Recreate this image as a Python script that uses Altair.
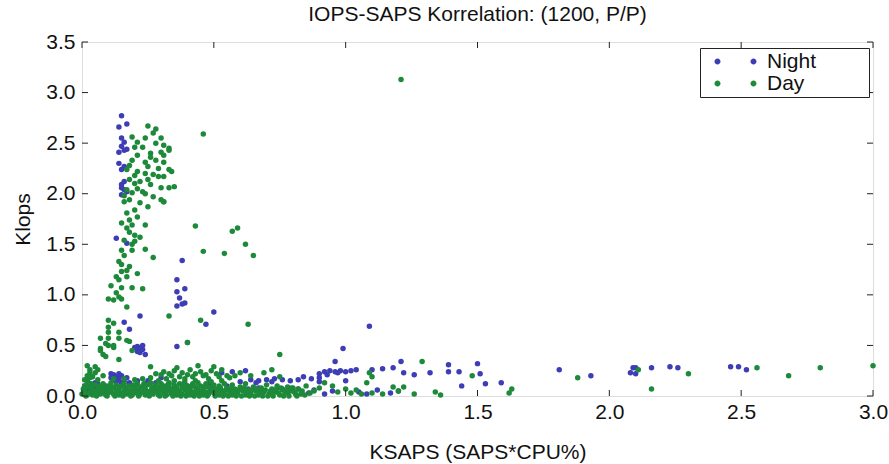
import altair as alt
import pandas as pd

# ---------------- data ----------------
night_points = [
    # upper column
    (0.15, 2.77), (0.14, 2.66), (0.17, 2.69), (0.15, 2.55), (0.16, 2.51), (0.14, 2.41),
    (0.16, 2.43), (0.15, 2.47), (0.15, 2.24), (0.16, 2.27), (0.15, 2.09), (0.15, 2.06),
    (0.16, 2.04), (0.15, 1.99), (0.17, 2.02), (0.16, 2.12), (0.14, 2.30), (0.17, 2.44),
    # middle
    (0.13, 1.56), (0.17, 1.51), (0.38, 1.34), (0.36, 1.15), (0.39, 1.06), (0.36, 1.03),
    (0.37, 0.97), (0.39, 0.92), (0.36, 0.89), (0.50, 0.83), (0.22, 0.79), (0.47, 0.71),
    (0.16, 0.73), (0.18, 0.66), (0.38, 0.91),
    (0.21, 0.49), (0.22, 0.47), (0.23, 0.46), (0.24, 0.41), (0.22, 0.43), (0.21, 0.44),
    (0.20, 0.48), (0.23, 0.50), (0.36, 0.49), (0.40, 0.53),
    # row around 0.25 to the right
    (0.90, 0.22), (0.92, 0.24), (0.94, 0.25), (0.96, 0.24), (0.98, 0.25), (1.00, 0.24),
    (1.02, 0.25), (1.04, 0.26), (0.93, 0.21), (0.97, 0.23), (1.09, 0.69), (0.99, 0.47),
    (0.96, 0.34), (1.21, 0.34), (1.10, 0.26), (1.14, 0.27), (1.18, 0.28), (1.22, 0.23),
    (1.26, 0.21), (1.32, 0.23), (1.39, 0.31), (1.39, 0.24), (1.43, 0.24), (1.50, 0.32),
    (1.51, 0.22), (1.44, 0.10), (1.53, 0.12), (1.59, 0.13), (1.00, 0.15), (1.81, 0.26),
    (1.93, 0.20), (2.09, 0.28), (2.10, 0.28), (2.08, 0.23), (2.10, 0.22), (2.16, 0.28),
    (2.23, 0.29), (2.26, 0.28), (2.46, 0.29), (2.49, 0.29), (2.52, 0.26), (1.17, 0.03),
    (1.12, 0.06), (1.08, 0.02), (1.20, 0.05),
    # band 0.55 - 0.9
    (0.53, 0.23), (0.57, 0.24), (0.62, 0.25), (0.64, 0.16), (0.67, 0.15), (0.70, 0.16),
    (0.73, 0.17), (0.76, 0.16), (0.79, 0.15), (0.82, 0.16), (0.86, 0.03), (0.66, 0.13),
    (0.72, 0.14), (0.60, 0.14), (0.84, 0.19), (0.87, 0.17), (0.67, 0.08), (0.76, 0.07),
    (0.82, 0.07), (0.90, 0.14), (0.90, 0.18),
    # lower left
    (0.12, 0.21), (0.13, 0.19), (0.14, 0.17), (0.15, 0.20), (0.16, 0.15), (0.13, 0.14),
    (0.11, 0.18), (0.17, 0.18), (0.14, 0.22), (0.18, 0.13), (0.21, 0.15), (0.24, 0.12),
    (0.02, 0.05), (0.03, 0.08), (0.04, 0.06), (0.05, 0.09), (0.06, 0.05), (0.07, 0.07),
    (0.08, 0.04), (0.03, 0.12), (0.01, 0.10), (0.02, 0.15), (0.05, 0.13), (0.09, 0.10),
    (0.10, 0.06), (0.18, 0.12), (0.20, 0.10), (0.22, 0.08), (0.25, 0.15), (0.28, 0.13),
    (0.28, 0.06), (0.30, 0.18), (0.32, 0.06), (0.33, 0.12), (0.35, 0.07), (0.40, 0.10),
    (0.44, 0.05), (0.48, 0.12), (0.52, 0.06), (0.55, 0.10), (0.58, 0.04), (0.63, 0.07),
    (0.68, 0.05), (0.74, 0.08), (0.78, 0.04), (0.88, 0.06), (0.92, 0.02), (0.95, 0.05),
    (1.05, 0.04), (0.11, 0.22), (0.12, 0.16), (0.15, 0.13), (0.04, 0.10), (0.06, 0.12),
]

day_points = [
    # upper cluster
    (0.46, 2.59), (0.25, 2.67), (0.27, 2.60), (0.30, 2.55), (0.19, 2.56), (0.21, 2.51),
    (0.23, 2.46), (0.28, 2.50), (0.31, 2.48), (0.33, 2.45), (0.26, 2.40), (0.30, 2.41),
    (0.31, 2.38), (0.21, 2.38), (0.19, 2.33), (0.24, 2.31), (0.28, 2.33), (0.31, 2.31),
    (0.25, 2.27), (0.29, 2.25), (0.33, 2.24), (0.17, 2.24), (0.21, 2.22), (0.24, 2.20),
    (0.27, 2.19), (0.31, 2.17), (0.18, 2.14), (0.22, 2.12), (0.26, 2.09), (0.30, 2.06),
    (0.33, 2.06), (0.17, 2.04), (0.19, 2.01), (0.23, 2.02), (0.27, 1.97), (0.30, 1.94),
    (0.18, 1.94), (0.22, 1.91), (0.33, 2.43), (0.35, 2.07), (0.31, 1.92), (0.28, 2.64),
    (0.20, 2.46), (0.24, 2.55), (0.18, 2.28), (0.20, 2.10), (0.25, 2.14), (0.29, 2.17),
    (0.21, 2.05), (0.24, 2.00), (0.34, 2.22), (0.20, 2.18), (0.16, 1.98), (0.26, 2.36),
    # middle column
    (0.16, 1.92), (0.17, 1.81), (0.18, 1.74), (0.15, 1.71), (0.19, 1.69), (0.18, 1.62),
    (0.20, 1.59), (0.22, 1.57), (0.16, 1.54), (0.15, 1.44), (0.16, 1.39), (0.19, 1.44),
    (0.31, 1.92), (0.20, 1.84), (0.25, 1.87), (0.21, 1.77), (0.17, 1.66), (0.19, 1.50),
    (0.20, 1.53), (0.15, 1.30), (0.14, 1.33), (0.18, 1.28),
    (0.43, 1.68), (0.57, 1.63), (0.59, 1.66), (0.62, 1.50), (0.46, 1.43), (0.54, 1.41),
    (0.65, 1.39), (0.24, 1.69), (0.24, 1.45), (0.27, 1.37), (0.33, 0.79), (0.45, 0.75),
    (0.63, 0.71),
    (0.15, 1.23), (0.17, 1.24), (0.13, 1.18), (0.14, 1.15), (0.17, 1.18), (0.21, 1.21),
    (0.11, 1.09), (0.15, 1.07), (0.19, 1.07), (0.23, 1.06), (0.13, 1.02), (0.10, 0.96),
    (0.12, 0.95), (0.14, 0.98), (0.15, 0.96), (0.17, 0.88), (0.10, 0.75), (0.12, 0.72),
    (0.10, 0.68), (0.10, 0.63), (0.14, 0.63), (0.07, 0.57), (0.10, 0.57), (0.14, 0.57),
    (0.17, 0.55), (0.10, 0.50), (0.07, 0.47), (0.12, 0.48),
    # lower
    (0.09, 0.52), (0.12, 0.50), (0.08, 0.41), (0.14, 0.36), (0.05, 0.29), (0.05, 0.23),
    (0.26, 0.29), (0.18, 0.54), (0.40, 0.53), (0.09, 0.39), (0.07, 0.45), (0.19, 0.45),
    (0.75, 0.41), (0.04, 0.19), (0.06, 0.26),
    (0.28, 0.22), (0.31, 0.24), (0.33, 0.22), (0.35, 0.25), (0.36, 0.28), (0.38, 0.23),
    (0.40, 0.21), (0.41, 0.26), (0.43, 0.22), (0.45, 0.24), (0.47, 0.21), (0.49, 0.25),
    (0.51, 0.22), (0.53, 0.26), (0.55, 0.20), (0.56, 0.18), (0.60, 0.23), (0.69, 0.23),
    (0.72, 0.26), (0.64, 0.20), (0.75, 0.19), (0.50, 0.29), (0.44, 0.30), (0.03, 0.23),
    (0.02, 0.30), (0.08, 0.20), (0.30, 0.21), (0.34, 0.20), (0.37, 0.19), (0.42, 0.19),
    (0.46, 0.20), (0.52, 0.19), (0.58, 0.20), (0.32, 0.17), (0.39, 0.17), (0.48, 0.17),
    # right tail
    (0.92, 0.13), (0.97, 0.04), (1.02, 0.03), (1.04, 0.06), (1.08, 0.13), (1.10, 0.03),
    (1.10, 0.19), (1.09, 0.23), (1.18, 0.09), (1.22, 0.09), (1.20, 0.05), (1.29, 0.34),
    (1.34, 0.04), (1.36, 0.01), (1.48, 0.20), (1.63, 0.07), (1.62, 0.03), (1.88, 0.18),
    (2.11, 0.26), (2.16, 0.07), (2.30, 0.22), (2.56, 0.28), (2.68, 0.20), (2.80, 0.28),
    (3.00, 0.30), (1.21, 3.13), (0.85, 0.10), (0.88, 0.05), (0.80, 0.08), (0.83, 0.02),
    (0.90, 0.08), (0.95, 0.10), (1.00, 0.07), (1.06, 0.02), (1.14, 0.02), (1.26, 0.02),
    # dense bottom band
    (0.00, 0.02), (0.01, 0.05), (0.01, 0.10), (0.02, 0.01), (0.02, 0.14), (0.03, 0.04),
    (0.03, 0.18), (0.04, 0.08), (0.04, 0.01), (0.05, 0.11), (0.05, 0.03), (0.06, 0.06),
    (0.06, 0.16), (0.07, 0.02), (0.07, 0.09), (0.08, 0.12), (0.08, 0.04), (0.09, 0.01),
    (0.09, 0.07), (0.10, 0.10), (0.10, 0.03), (0.11, 0.13), (0.11, 0.05), (0.12, 0.02),
    (0.12, 0.08), (0.13, 0.11), (0.13, 0.04), (0.14, 0.01), (0.14, 0.07), (0.15, 0.10),
    (0.15, 0.03), (0.16, 0.05), (0.16, 0.12), (0.17, 0.02), (0.17, 0.08), (0.18, 0.04),
    (0.18, 0.10), (0.19, 0.01), (0.19, 0.06), (0.20, 0.09), (0.20, 0.03), (0.21, 0.12),
    (0.21, 0.05), (0.22, 0.02), (0.22, 0.08), (0.23, 0.10), (0.23, 0.04), (0.24, 0.01),
    (0.24, 0.07), (0.25, 0.11), (0.25, 0.03), (0.26, 0.05), (0.26, 0.13), (0.27, 0.02),
    (0.27, 0.09), (0.28, 0.06), (0.28, 0.11), (0.29, 0.01), (0.29, 0.04), (0.30, 0.08),
    (0.30, 0.12), (0.31, 0.03), (0.31, 0.10), (0.32, 0.05), (0.32, 0.01), (0.33, 0.09),
    (0.33, 0.13), (0.34, 0.02), (0.34, 0.07), (0.35, 0.11), (0.35, 0.04), (0.36, 0.01),
    (0.36, 0.08), (0.37, 0.12), (0.37, 0.05), (0.38, 0.02), (0.38, 0.09), (0.39, 0.06),
    (0.39, 0.14), (0.40, 0.03), (0.40, 0.10), (0.41, 0.07), (0.41, 0.01), (0.42, 0.12),
    (0.42, 0.04), (0.43, 0.09), (0.43, 0.02), (0.44, 0.06), (0.44, 0.13), (0.45, 0.03),
    (0.45, 0.10), (0.46, 0.07), (0.46, 0.01), (0.47, 0.12), (0.47, 0.04), (0.48, 0.09),
    (0.48, 0.02), (0.49, 0.06), (0.49, 0.14), (0.50, 0.03), (0.50, 0.11), (0.51, 0.07),
    (0.52, 0.01), (0.52, 0.10), (0.53, 0.05), (0.54, 0.12), (0.54, 0.02), (0.55, 0.08),
    (0.56, 0.04), (0.57, 0.11), (0.57, 0.01), (0.58, 0.07), (0.59, 0.03), (0.60, 0.09),
    (0.61, 0.05), (0.62, 0.01), (0.62, 0.12), (0.63, 0.06), (0.64, 0.03), (0.65, 0.09),
    (0.66, 0.05), (0.67, 0.01), (0.68, 0.08), (0.69, 0.04), (0.70, 0.11), (0.71, 0.02),
    (0.72, 0.07), (0.73, 0.04), (0.74, 0.10), (0.75, 0.01), (0.76, 0.06), (0.77, 0.03),
    (0.78, 0.09), (0.79, 0.05), (0.81, 0.02), (0.82, 0.07),
    (0.005, 0.07), (0.015, 0.00), (0.025, 0.09), (0.035, 0.12), (0.045, 0.05),
    (0.055, 0.00), (0.065, 0.10), (0.075, 0.05), (0.085, 0.08), (0.095, 0.00),
    (0.105, 0.06), (0.115, 0.09), (0.125, 0.00), (0.135, 0.06), (0.145, 0.09),
    (0.155, 0.00), (0.165, 0.08), (0.175, 0.05), (0.185, 0.00), (0.195, 0.11),
    (0.205, 0.06), (0.215, 0.00), (0.225, 0.05), (0.235, 0.12), (0.245, 0.05),
    (0.255, 0.00), (0.265, 0.08), (0.275, 0.05), (0.285, 0.09), (0.295, 0.00),
    (0.305, 0.06), (0.315, 0.00), (0.325, 0.11), (0.335, 0.05), (0.345, 0.00),
    (0.355, 0.08), (0.365, 0.05), (0.375, 0.00), (0.385, 0.12), (0.395, 0.00),
    (0.405, 0.05), (0.415, 0.10), (0.425, 0.00), (0.435, 0.06), (0.445, 0.00),
    (0.455, 0.05), (0.465, 0.09), (0.475, 0.00), (0.485, 0.05), (0.495, 0.09),
    (0.505, 0.00), (0.515, 0.04), (0.525, 0.08), (0.535, 0.00), (0.545, 0.06),
    (0.555, 0.00), (0.565, 0.07), (0.575, 0.04), (0.585, 0.00), (0.595, 0.06),
    (0.605, 0.00), (0.615, 0.08), (0.625, 0.04), (0.635, 0.00), (0.645, 0.06),
    (0.655, 0.00), (0.665, 0.07), (0.675, 0.03), (0.685, 0.00), (0.695, 0.06),
    (0.705, 0.00), (0.715, 0.05), (0.725, 0.00), (0.735, 0.06), (0.745, 0.03),
    (0.755, 0.08), (0.765, 0.00), (0.775, 0.05), (0.785, 0.00), (0.795, 0.08),
    (0.805, 0.04), (0.815, 0.00), (0.835, 0.05), (0.845, 0.01), (0.865, 0.03),
    (0.02, 0.20), (0.03, 0.26), (0.01, 0.16), (0.12, 0.17), (0.16, 0.17), (0.20, 0.16),
    (0.23, 0.17), (0.26, 0.18), (0.29, 0.15), (0.35, 0.15), (0.43, 0.15), (0.53, 0.15),
]

series_names = ["Night", "Day"]
series_colors = ["#3d3db5", "#1d8a3a"]
x_ticks = [0.0, 0.5, 1.0, 1.5, 2.0, 2.5, 3.0]
y_ticks = [0.0, 0.5, 1.0, 1.5, 2.0, 2.5, 3.0, 3.5]

# ---------------- build tables ----------------
rows = [{"x": x, "y": y, "series": "Night"} for x, y in night_points]
rows += [{"x": x, "y": y, "series": "Day"} for x, y in day_points]
df = pd.DataFrame(rows)
df["order"] = df["series"].map({"Night": 0, "Day": 1})

xt = pd.DataFrame({"x": x_ticks})
yt = pd.DataFrame({"y": y_ticks})

W, H = 791, 354
FONT = "Liberation Sans"
TXT = "#111"

xscale = alt.Scale(domain=[0, 3], nice=False, zero=False)
yscale = alt.Scale(domain=[0, 3.5], nice=False, zero=False)

xaxis = alt.Axis(values=x_ticks, format=".1f", tickSize=0, domain=False, grid=False,
                 labelFlush=False, labelFontSize=21, labelFont=FONT, labelColor=TXT,
                 labelPadding=5, titleFontSize=21, titleFont=FONT,
                 titleFontWeight="normal", titleColor=TXT, titlePadding=19)
yaxis = alt.Axis(values=y_ticks, format=".1f", tickSize=0, domain=False, grid=False,
                 labelFlush=False, labelFontSize=21, labelFont=FONT, labelColor=TXT,
                 labelPadding=7, titleFontSize=21, titleFont=FONT,
                 titleFontWeight="normal", titleColor=TXT, titlePadding=12)

X = alt.X("x:Q", scale=xscale, axis=xaxis, title="KSAPS (SAPS*CPU%)")
Y = alt.Y("y:Q", scale=yscale, axis=yaxis, title="Klops")

# legend glyph: two dots, like the reference legend
two_dots = ("M0.1,0 a0.3,0.3 0 1,0 0.6,0 a0.3,0.3 0 1,0 -0.6,0 Z "
            "M3.7,0 a0.3,0.3 0 1,0 0.6,0 a0.3,0.3 0 1,0 -0.6,0 Z")
# blank trailing room inside the legend box, as in the reference
pad_label = "datum.label + '\u2009\u2800\u2800\u2800'"

points = alt.Chart(df).mark_circle(size=30, opacity=1).encode(
    x=X, y=Y,
    color=alt.Color("series:N", scale=alt.Scale(domain=series_names, range=series_colors),
                    legend=alt.Legend(title=None, orient="none", legendX=618, legendY=6,
                                      symbolType=two_dots, symbolSize=400,
                                      labelFontSize=21, labelFont=FONT, labelColor=TXT,
                                      labelOffset=43, padding=3, rowPadding=0,
                                      labelExpr=pad_label,
                                      strokeColor="#222", fillColor="white",
                                      symbolStrokeWidth=0)),
    order=alt.Order("order:Q"),
)

tick_col = "#222"
bottom = alt.Chart(xt).mark_rule(color=tick_col).encode(x=X, y=alt.value(H), y2=alt.value(H - 6))
top = alt.Chart(xt).mark_rule(color=tick_col).encode(x=X, y=alt.value(0), y2=alt.value(6))
left = alt.Chart(yt).mark_rule(color=tick_col).encode(y=Y, x=alt.value(0), x2=alt.value(6))
right = alt.Chart(yt).mark_rule(color=tick_col).encode(y=Y, x=alt.value(W), x2=alt.value(W - 6))

chart = alt.layer(points, bottom, top, left, right).properties(
    width=W, height=H,
    title=alt.TitleParams("IOPS-SAPS Korrelation: (1200, P/P)", fontSize=21, font=FONT,
                          fontWeight="normal", color=TXT, offset=6, anchor="middle"),
    autosize=alt.AutoSizeParams(type="none"),
    padding={"left": 82, "top": 42, "right": 16, "bottom": 68},
).configure_view(stroke="#222", strokeWidth=1.2).configure(background="white")

chart.save("out.html", embed_options={"renderer": "svg", "actions": False})
